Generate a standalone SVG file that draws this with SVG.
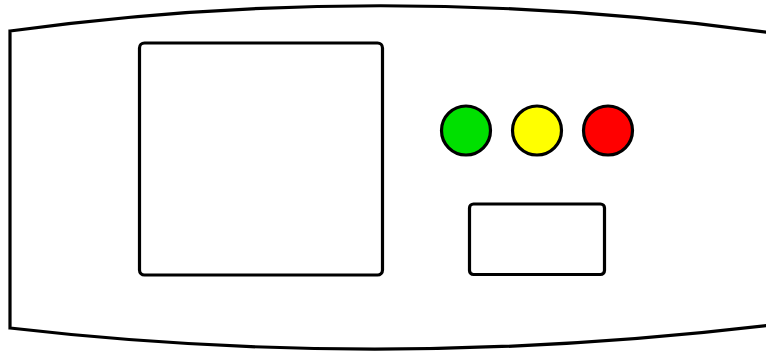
<svg xmlns="http://www.w3.org/2000/svg" width="766" height="354" viewBox="0 0 766 354">
<style>
.ln{fill:#fff;stroke:#000;stroke-width:3.2}
.led{stroke:#000;stroke-width:3.2}
</style>
<rect width="766" height="354" fill="#fff"/>
<g id="housing">
<path class="ln" d="M10,31 Q388,-21 780,34 L780,324 Q388,372 10,328 Z"/>
</g>
<g id="screen">
<rect class="ln" x="139.5" y="43" width="243" height="232" rx="5"/>
</g>
<g id="led-green"><circle class="led" cx="466" cy="130.5" r="24.5" fill="#00e000"/></g>
<g id="led-yellow"><circle class="led" cx="537" cy="130.5" r="24.5" fill="#ffff00"/></g>
<g id="led-red"><circle class="led" cx="608" cy="130.5" r="24.5" fill="#ff0000"/></g>
<g id="button">
<rect class="ln" x="469.5" y="204" width="135" height="70.5" rx="4"/>
</g>
<g id="connectors"/>
</svg>
